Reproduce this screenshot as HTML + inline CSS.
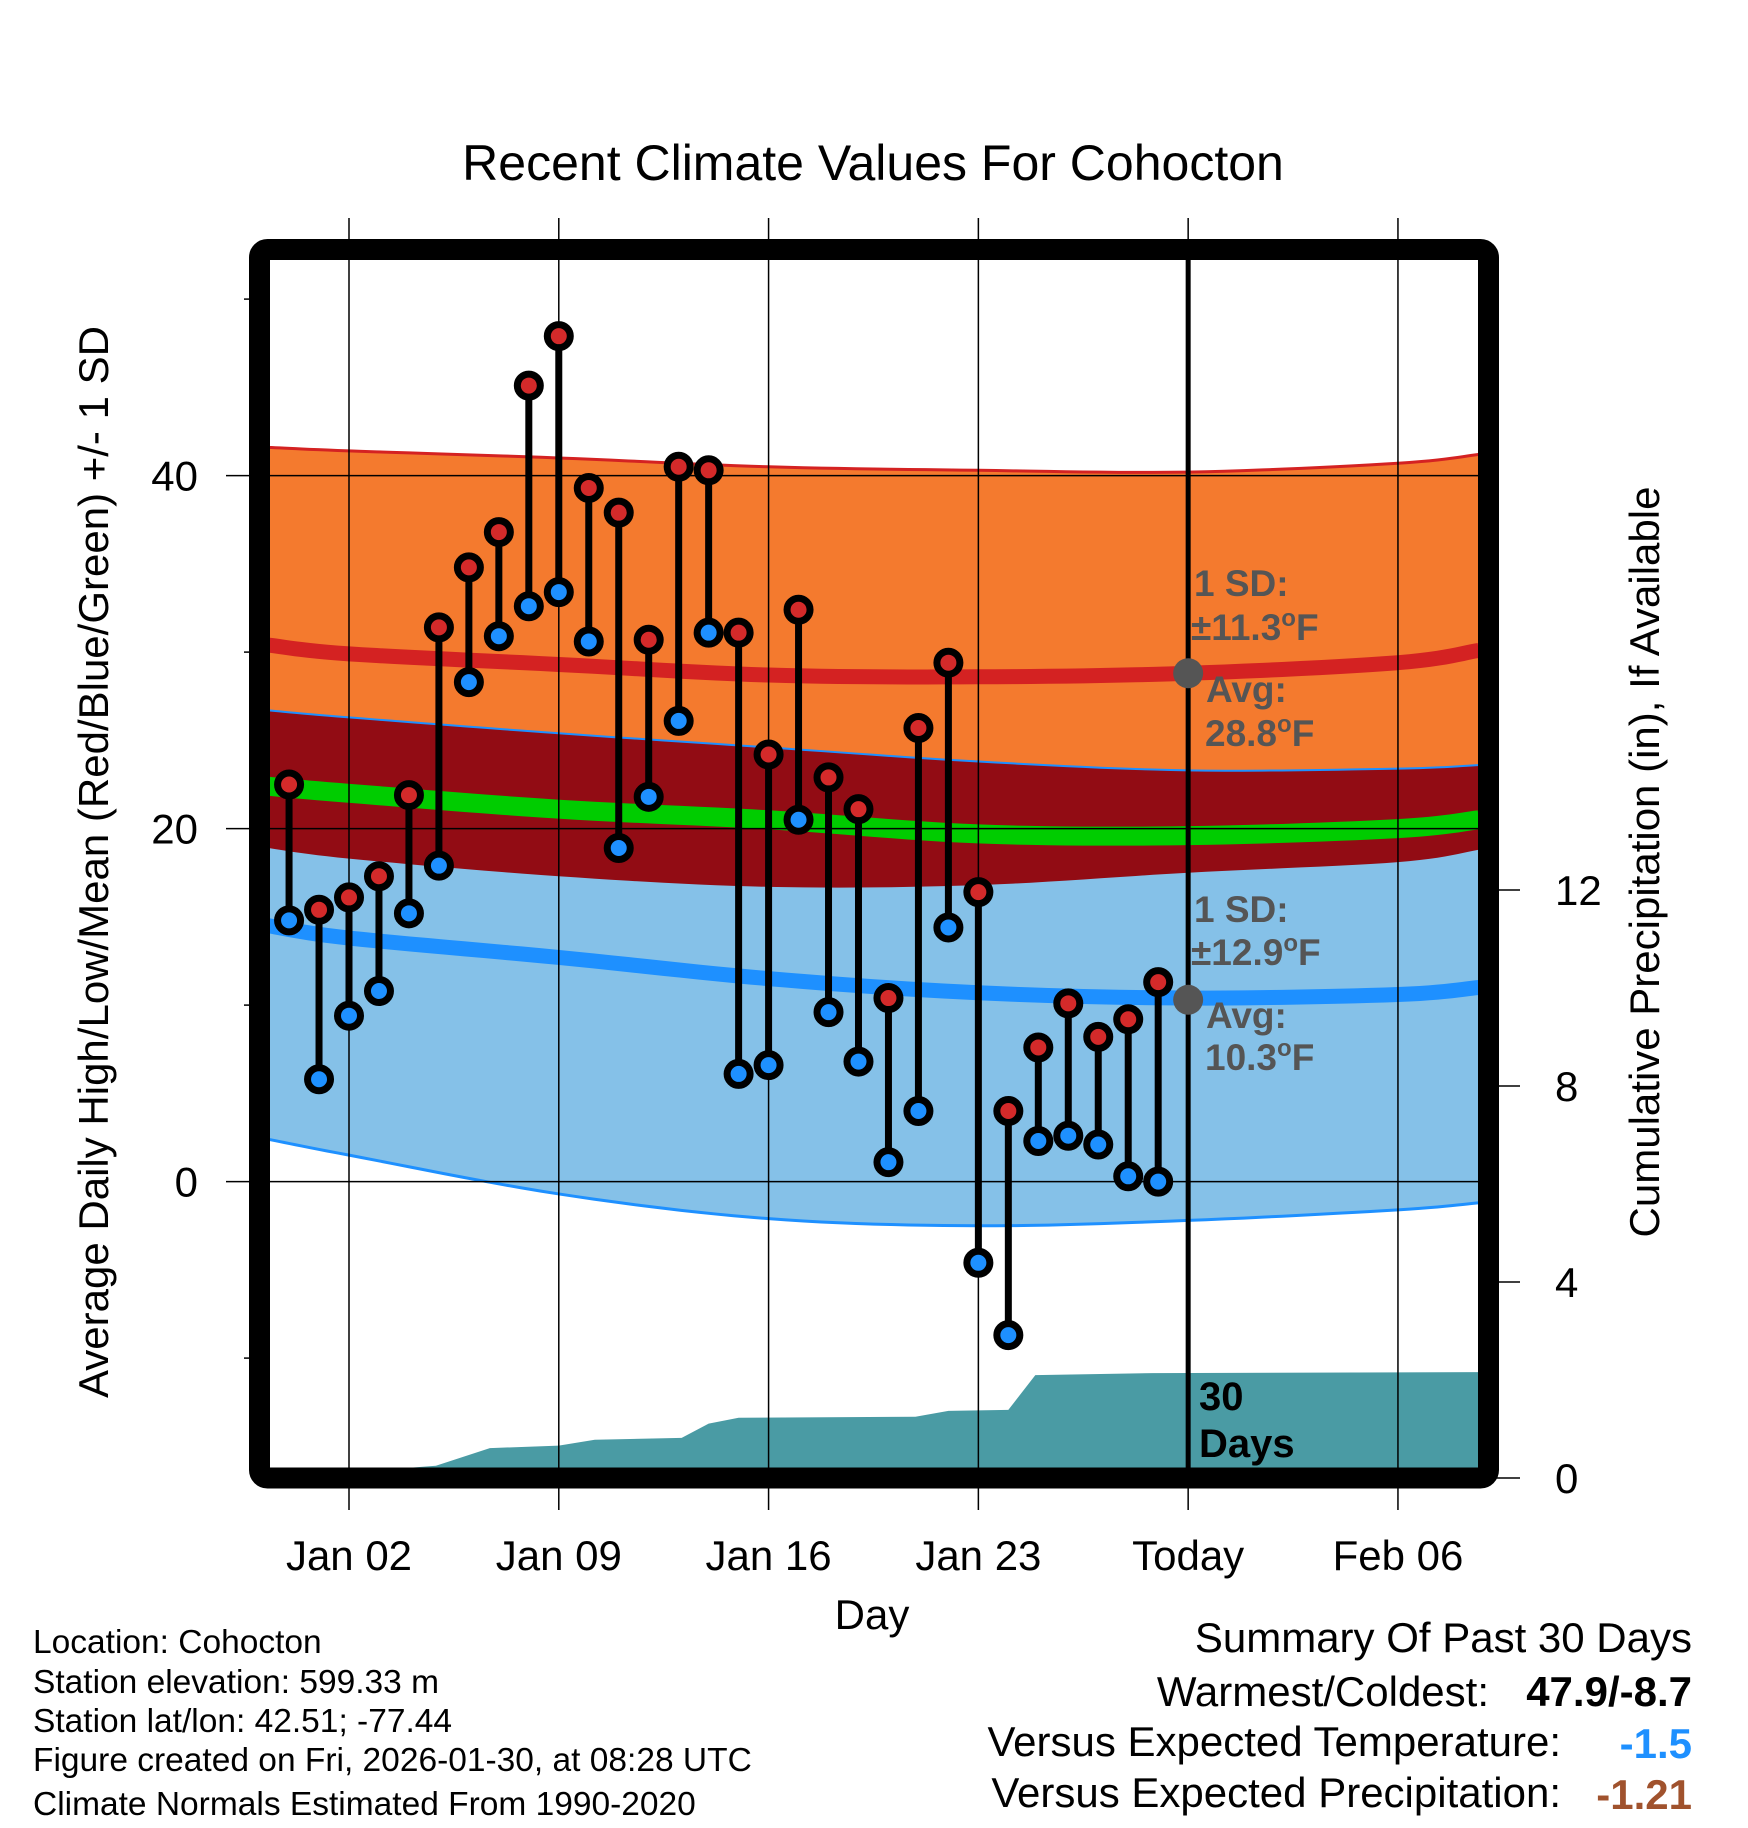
<!DOCTYPE html>
<html><head><meta charset="utf-8"><style>
html,body{margin:0;padding:0;background:#fff;}
svg{display:block;font-family:"Liberation Sans",sans-serif;}
</style></head><body>
<svg id="chart" width="1748" height="1828" viewBox="0 0 1748 1828">
<defs><clipPath id="plotclip"><rect x="270" y="260" width="1208" height="1208"/></clipPath></defs>
<g id="bands" clip-path="url(#plotclip)"></g>
<g id="grid"></g>
<g id="marks"></g>
<rect x="259.5" y="249.5" width="1229" height="1228.5" rx="8" fill="none" stroke="#000" stroke-width="21"/>
<g id="texts"></g>
<text x="873" y="180" font-size="50" text-anchor="middle">Recent Climate Values For Cohocton</text>
<text x="0" y="0" transform="translate(108,862) rotate(-90)" font-size="42" text-anchor="middle">Average Daily High/Low/Mean (Red/Blue/Green) +/- 1 SD</text>
<text x="0" y="0" transform="translate(1659,862) rotate(-90)" font-size="42" text-anchor="middle">Cumulative Precipitation (in), If Available</text>
<text x="872" y="1629" font-size="42" text-anchor="middle">Day</text>
<g font-size="33.5">
<text x="33" y="1653">Location: Cohocton</text>
<text x="33" y="1693">Station elevation: 599.33 m</text>
<text x="33" y="1732">Station lat/lon: 42.51; -77.44</text>
<text x="33" y="1771">Figure created on Fri, 2026-01-30, at 08:28 UTC</text>
<text x="33" y="1815">Climate Normals Estimated From 1990-2020</text>
</g>
<g font-size="42">
<text x="1692" y="1652" text-anchor="end">Summary Of Past 30 Days</text>
<text x="1489" y="1706" text-anchor="end">Warmest/Coldest:</text>
<text x="1692" y="1706" text-anchor="end" font-weight="bold">47.9/-8.7</text>
<text x="1561" y="1756" text-anchor="end">Versus Expected Temperature:</text>
<text x="1692" y="1758" text-anchor="end" font-weight="bold" fill="#1e90ff">-1.5</text>
<text x="1561" y="1807" text-anchor="end">Versus Expected Precipitation:</text>
<text x="1692" y="1809" text-anchor="end" font-weight="bold" fill="#a0522d">-1.21</text>
</g>
<g font-size="37" font-weight="bold" fill="#555">
<text x="1194" y="596">1 SD:</text>
<text x="1191" y="640">±11.3<tspan font-size="24" dy="-14">o</tspan><tspan dy="14">F</tspan></text>
<text x="1206" y="702">Avg:</text>
<text x="1205" y="746">28.8<tspan font-size="24" dy="-14">o</tspan><tspan dy="14">F</tspan></text>
<text x="1194" y="922">1 SD:</text>
<text x="1191" y="965">±12.9<tspan font-size="24" dy="-14">o</tspan><tspan dy="14">F</tspan></text>
<text x="1206" y="1028">Avg:</text>
<text x="1205" y="1070">10.3<tspan font-size="24" dy="-14">o</tspan><tspan dy="14">F</tspan></text>
</g>
<g font-size="40" font-weight="bold" fill="#000">
<text x="1199" y="1410">30</text>
<text x="1199" y="1457">Days</text>
</g>
</svg>
<script>
// data
const highs = [22.5,15.4,16.1,17.3,21.9,31.4,34.8,36.8,45.1,47.9,39.3,37.9,30.7,40.5,40.3,31.1,24.2,32.4,22.9,21.1,10.4,25.7,29.4,16.4,4.0,7.6,10.1,8.2,9.2,11.3];
const lows  = [14.8,5.8,9.4,10.8,15.2,17.9,28.3,30.9,32.6,33.4,30.6,18.9,21.8,26.1,31.1,6.1,6.6,20.5,9.6,6.8,1.1,4.0,14.4,-4.6,-8.7,2.3,2.6,2.1,0.3,0.0];
const normDays = [-2.7,0,7,14,21,28,35,37.7];
const highAvg = [30.4,29.9,29.3,28.7,28.6,28.8,29.4,30.1];
const highTop = [41.6,41.4,41.0,40.5,40.3,40.2,40.7,41.2];
const highBot = [18.9,18.3,17.3,16.7,16.8,17.5,18.1,18.8];
const lowAvg  = [14.5,13.8,12.7,11.5,10.7,10.4,10.6,11.0];
const lowTop  = [26.7,26.3,25.4,24.6,23.8,23.3,23.4,23.6];
const lowBot  = [2.4,1.5,-0.7,-2.1,-2.5,-2.2,-1.6,-1.2];
const meanAvg = [22.4,22.0,21.1,20.5,19.7,19.6,20.0,20.5];
const precipDays = [-2.7,1.2,2.9,4.7,7,8.2,11.1,12,13,18.9,20,22,22.9,26.8,37.7];
const precip = [0,0.17,0.25,0.61,0.66,0.78,0.82,1.11,1.23,1.25,1.37,1.39,2.10,2.14,2.16];
const xTickDays = [0,7,14,21,28,35];
const xTickLabels = ["Jan 02","Jan 09","Jan 16","Jan 23","Today","Feb 06"];
const yMajor = [40,20,0];
const yMinor = [50,30,10,-10];
const y2Ticks = [0,4,8,12];
const todayHigh = 28.8, todayLow = 10.3;

const NS="http://www.w3.org/2000/svg";
const X = d => 349 + d*29.97;
const Y = t => 1181.6 - t*17.65;
const P = p => 1478 - p*49;
function mk(tag, attrs, parent){const e=document.createElementNS(NS,tag);for(const k in attrs)e.setAttribute(k,attrs[k]);parent.appendChild(e);return e;}
const bands=document.getElementById('bands'), grid=document.getElementById('grid'), marks=document.getElementById('marks'), texts=document.getElementById('texts');
// smooth (Catmull-Rom) sampled points
function smooth(arr){
  const pts=normDays.map((d,i)=>[X(d),Y(arr[i])]);
  const out=[];
  for(let i=0;i<pts.length-1;i++){
    const p0=pts[Math.max(0,i-1)],p1=pts[i],p2=pts[i+1],p3=pts[Math.min(pts.length-1,i+2)];
    for(let k=0;k<12;k++){
      const t=k/12,t2=t*t,t3=t2*t;
      const f=(a,b,c,d)=>0.5*(2*b+(-a+c)*t+(2*a-5*b+4*c-d)*t2+(-a+3*b-3*c+d)*t3);
      out.push([f(p0[0],p1[0],p2[0],p3[0]),f(p0[1],p1[1],p2[1],p3[1])]);
    }
  }
  out.push(pts[pts.length-1]);
  return out;
}
const line = arr => smooth(arr).map(p=>p[0]+','+p[1]).join(' ');
const band = (a,b) => line(a)+' '+smooth(b).reverse().map(p=>p[0]+','+p[1]).join(' ');

let e;
e=mk('polygon',{points:band(highTop,highBot),fill:'#f47a2e'},bands);


e=mk('polygon',{points:band(lowTop,lowBot),fill:'#85c1e8'},bands);


e=mk('polygon',{points:band(lowTop,highBot),fill:'#920c14'},bands);


e=mk('polyline',{points:line(highTop),fill:'none',stroke:'#d42222','stroke-width':3},bands);


e=mk('polyline',{points:line(lowTop),fill:'none',stroke:'#1e90ff','stroke-width':2},bands);


e=mk('polyline',{points:line(lowBot),fill:'none',stroke:'#1e90ff','stroke-width':3},bands);


e=mk('polyline',{points:line(meanAvg),fill:'none',stroke:'#00cc00','stroke-width':19},bands);


e=mk('polyline',{points:line(highAvg),fill:'none',stroke:'#d42222','stroke-width':15},bands);


e=mk('polyline',{points:line(lowAvg),fill:'none',stroke:'#1e90ff','stroke-width':15},bands);


let pp = precipDays.map((d,i)=>X(d)+','+P(precip[i])).join(' ');
pp = X(precipDays[0])+','+P(0)+' '+pp+' '+X(precipDays[precipDays.length-1])+','+P(0);
e=mk('polygon',{points:pp,fill:'#4a9ba4'},bands);



// grid
xTickDays.forEach((d,i)=>{
  const g=mk('line',{x1:X(d),x2:X(d),y1:218,y2:1510,stroke:'#000','stroke-width':1.5},grid);
  
  
  const t=mk('text',{x:X(d),y:1570,'font-size':42,'text-anchor':'middle'},texts);
  t.textContent=xTickLabels[i];
  
  
});
yMajor.forEach(v=>{
  const g=mk('line',{x1:226,x2:1478,y1:Y(v),y2:Y(v),stroke:'#000','stroke-width':1.5},grid);
  
  
  const t=mk('text',{x:198,y:Y(v)+15,'font-size':42,'text-anchor':'end'},texts);
  t.textContent=v;
  
  
});
yMinor.forEach(v=>{
  const g=mk('line',{x1:244,x2:260,y1:Y(v),y2:Y(v),stroke:'#000','stroke-width':1.5},grid);
  
  
});
y2Ticks.forEach(v=>{
  const g=mk('line',{x1:1490,x2:1520,y1:P(v),y2:P(v),stroke:'#000','stroke-width':1.5},grid);
  
  
  const t=mk('text',{x:1555,y:P(v)+15,'font-size':42,'text-anchor':'start'},texts);
  t.textContent=v;
  
  
});
e=mk('line',{x1:X(28),x2:X(28),y1:255,y2:1475,stroke:'#000','stroke-width':5},grid);



// daily marks
highs.forEach((h,i)=>{
  const x=X(i-2);
  const s=mk('line',{x1:x,x2:x,y1:Y(h),y2:Y(lows[i]),stroke:'#000','stroke-width':7},marks);
  
  
  const c1=mk('circle',{cx:x,cy:Y(h),r:11.5,fill:'#d42a2a',stroke:'#000','stroke-width':7},marks);
  
  
  const c2=mk('circle',{cx:x,cy:Y(lows[i]),r:11.5,fill:'#1e90ff',stroke:'#000','stroke-width':7},marks);
  
  
});
e=mk('circle',{cx:X(28),cy:Y(todayHigh),r:15,fill:'#555'},marks);


e=mk('circle',{cx:X(28),cy:Y(todayLow),r:15,fill:'#555'},marks);


</script>
</body></html>
